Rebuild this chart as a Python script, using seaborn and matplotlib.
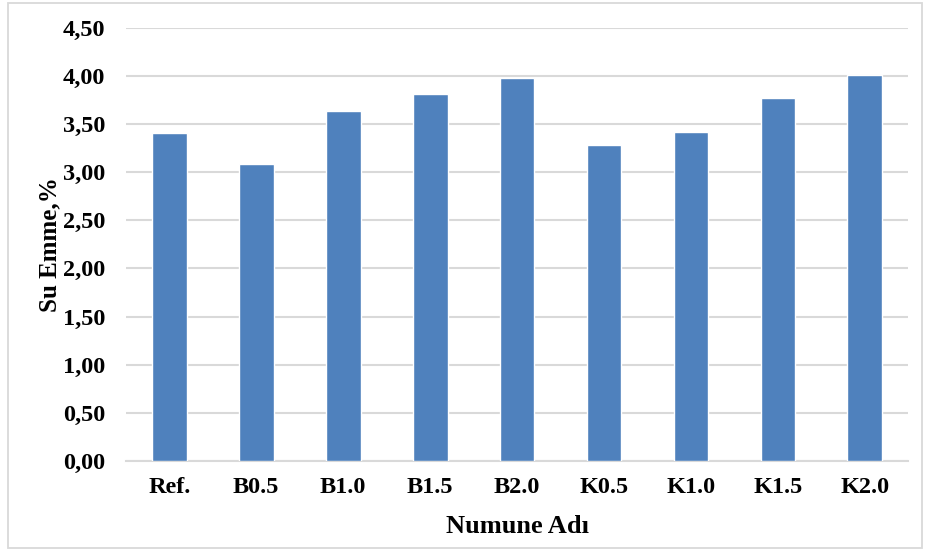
import numpy as np
import pandas as pd
import matplotlib
matplotlib.use('Agg')
import matplotlib.pyplot as plt
import seaborn as sns
from matplotlib.patches import Rectangle
from matplotlib.ticker import FuncFormatter, MultipleLocator

sns.set_style('white')
plt.rcParams['font.family'] = ['Liberation Serif', 'DejaVu Serif']
plt.rcParams['font.weight'] = 'bold'
plt.rcParams['text.color'] = 'black'
plt.rcParams['axes.labelcolor'] = 'black'
plt.rcParams['xtick.color'] = 'black'
plt.rcParams['ytick.color'] = 'black'

samples = ['Ref.', 'B0.5', 'B1.0', 'B1.5', 'B2.0', 'K0.5', 'K1.0', 'K1.5', 'K2.0']
water_abs = [3.41, 3.09, 3.64, 3.82, 3.98, 3.28, 3.42, 3.77, 4.01]

df = pd.DataFrame({'Numune': samples, 'Su': water_abs})

fig = plt.figure(figsize=(9.25, 5.53), dpi=100)
ax = fig.add_axes([0.136, 0.167, 0.846, 0.782])

sns.barplot(data=df, x='Numune', y='Su', color='#4F81BD', width=0.4,
            saturation=1, ax=ax, zorder=3)

ax.set_ylim(0, 4.5)
ax.yaxis.set_major_locator(MultipleLocator(0.5))
ax.yaxis.set_major_formatter(FuncFormatter(lambda v, p: f'{v:.2f}'.replace('.', ',')))
ax.grid(axis='y', color='#D9D9D9', linewidth=1.5, zorder=0)
for s in ['top', 'right', 'left']:
    ax.spines[s].set_visible(False)
ax.spines['bottom'].set_color('#D9D9D9')
ax.spines['bottom'].set_linewidth(1.5)
ax.tick_params(axis='y', length=0, pad=15, labelsize=17.5, labelcolor='black')
ax.tick_params(axis='x', length=0, pad=12, labelsize=17.5, labelcolor='black')
for lab in ax.get_xticklabels() + ax.get_yticklabels():
    lab.set_fontweight('bold')

ax.set_xlabel('Numune Adı', fontsize=19, fontweight='bold', labelpad=12, color='black')
ax.set_ylabel('Su Emme,%', fontsize=18, fontweight='bold', labelpad=1, color='black')

# chart area border
fig.patches.append(Rectangle((8 / 925, 5 / 553), 914 / 925, 545 / 553,
                             transform=fig.transFigure, fill=False,
                             edgecolor='#D9D9D9', linewidth=1.3))

fig.savefig('out.png', dpi=100)
